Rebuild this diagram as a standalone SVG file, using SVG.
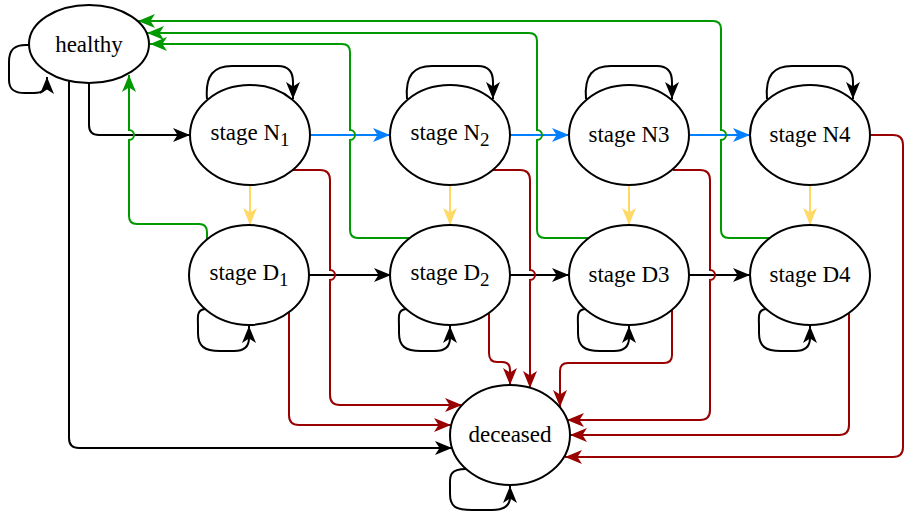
<svg xmlns="http://www.w3.org/2000/svg" width="904" height="517" viewBox="0 0 904 517">
<style>
.n{fill:#fff;stroke:#000;stroke-width:2}
.t{font-family:"Liberation Serif","Times New Roman",serif;font-size:23px;fill:#000;text-anchor:middle}
.s{font-size:19px}
.e{fill:none;stroke-width:2}
.k{stroke:#000}
.b{stroke:#007FFF}
.y{stroke:#FFD966}
.g{stroke:#009900}
.r{stroke:#990000}
</style>
<defs>
<marker id="ak" markerUnits="userSpaceOnUse" viewBox="-19 -10 20 20" markerWidth="20" markerHeight="20" refX="0" refY="0" orient="auto"><path d="M0,0 L-17,-7 L-12.5,0 L-17,7 Z" fill="#000"/></marker>
<marker id="ab" markerUnits="userSpaceOnUse" viewBox="-19 -10 20 20" markerWidth="20" markerHeight="20" refX="0" refY="0" orient="auto"><path d="M0,0 L-17,-7 L-12.5,0 L-17,7 Z" fill="#007FFF"/></marker>
<marker id="ay" markerUnits="userSpaceOnUse" viewBox="-19 -10 20 20" markerWidth="20" markerHeight="20" refX="0" refY="0" orient="auto"><path d="M0,0 L-17,-7 L-12.5,0 L-17,7 Z" fill="#FFD966"/></marker>
<marker id="ag" markerUnits="userSpaceOnUse" viewBox="-19 -10 20 20" markerWidth="20" markerHeight="20" refX="0" refY="0" orient="auto"><path d="M0,0 L-17,-7 L-12.5,0 L-17,7 Z" fill="#009900"/></marker>
<marker id="ar" markerUnits="userSpaceOnUse" viewBox="-19 -10 20 20" markerWidth="20" markerHeight="20" refX="0" refY="0" orient="auto"><path d="M0,0 L-17,-7 L-12.5,0 L-17,7 Z" fill="#990000"/></marker>
</defs>
<g id="connectors">
<g class="e k" marker-end="url(#ak)">
<path d="M29 45 C14 44 9 50 9 62 L9 80 C9 90 15 93 25 93 L34 93 C43 93 47 89 47 82 L47 77"/>
<path d="M207 99 C205 75 214 66 232 66 L278 66 C289 66 293 72 293 82 L293 99"/>
<path d="M407 99 C405 75 414 66 432 66 L478 66 C489 66 493 72 493 82 L493 99"/>
<path d="M586 99 C584 75 593 66 611 66 L657 66 C668 66 672 72 672 82 L672 99"/>
<path d="M767 99 C765 75 774 66 792 66 L838 66 C849 66 853 72 853 82 L853 99"/>
<path d="M205 309 C196 310 198 318 198 326 L198 333 C198 346 204 351 220 351 L234 351 C245 351 249 346 249 338 L249 326"/>
<path d="M406 309 C397 310 399 318 399 326 L399 333 C399 346 405 351 421 351 L435 351 C446 351 450 346 450 338 L450 326"/>
<path d="M585 309 C576 310 578 318 578 326 L578 333 C578 346 584 351 600 351 L614 351 C625 351 629 346 629 338 L629 326"/>
<path d="M766 309 C757 310 759 318 759 326 L759 333 C759 346 765 351 781 351 L795 351 C806 351 810 346 810 338 L810 326"/>
<path d="M466 469 C448 469 450 478 450 486 L450 494 C450 507 456 510 472 510 L492 510 C505 510 510 505 510 497 L510 486"/>
</g>
<g class="e k" marker-end="url(#ak)">
<path d="M89 83 L89 125 Q89 135 99 135 L190 135"/>
<path d="M69 81 L69 438 Q69 448 79 448 L452 448"/>
<path d="M309 275 L391 275"/>
<path d="M510 275 L569 275"/>
<path d="M689 275 L750 275"/>
</g>
<g class="e b" marker-end="url(#ab)">
<path d="M310 135 L390 135"/>
<path d="M510 135 L569 135"/>
<path d="M689 135 L750 135"/>
</g>
<g class="e y" marker-end="url(#ay)">
<path d="M250 185 L250 225"/>
<path d="M450 185 L450 225"/>
<path d="M629 185 L629 225"/>
<path d="M810 185 L810 225"/>
</g>
<g class="e g" marker-end="url(#ag)">
<path d="M207 239 L207 232 Q207 224 199 224 L137 224 Q129 224 129 216 L129 140 A5 5 0 0 0 129 130 L129 75"/>
<path d="M410 238 L358 238 Q350 238 350 230 L350 140 A5 5 0 0 0 350 130 L350 52 Q350 44 342 44 L150 44"/>
<path d="M589 238 L545 238 Q537 238 537 230 L537 140 A5 5 0 0 0 537 130 L537 41 Q537 33 529 33 L147 33"/>
<path d="M770 238 L729 238 Q721 238 721 230 L721 140 A5 5 0 0 0 721 130 L721 29 Q721 21 713 21 L138 21"/>
</g>
<g class="e r" marker-end="url(#ar)">
<path d="M293 170 L320 170 Q330 170 330 180 L330 270 A5 5 0 0 1 330 280 L330 395 Q330 405 340 405 L462 405"/>
<path d="M289 312 L289 415 Q289 425 299 425 L451 425"/>
<path d="M493 170 L520 170 Q530 170 530 180 L530 270 A5 5 0 0 1 530 280 L530 388"/>
<path d="M489 312 L489 353 Q489 362 497 362 L502 362 Q510 362 510 370 L510 385"/>
<path d="M672 310 L672 355 Q672 363 664 363 L568 363 Q560 363 560 371 L560 407"/>
<path d="M673 170 L700 170 Q710 170 710 180 L710 270 A5 5 0 0 1 710 280 L710 410 Q710 420 700 420 L567 420"/>
<path d="M849 312 L849 425 Q849 435 839 435 L570 435"/>
<path d="M870 135 L893 135 Q903 135 903 145 L903 447 Q903 457 893 457 L565 457"/>
</g>
</g>
<g id="healthy"><ellipse class="n" cx="89" cy="44" rx="60" ry="39"/><text class="t" x="89" y="52">healthy</text></g>
<g id="stageN1"><ellipse class="n" cx="250" cy="135" rx="60" ry="50"/><text class="t" x="250" y="140">stage N<tspan class="s" dy="6">1</tspan></text></g>
<g id="stageN2"><ellipse class="n" cx="450" cy="135" rx="60" ry="50"/><text class="t" x="450" y="140">stage N<tspan class="s" dy="6">2</tspan></text></g>
<g id="stageN3"><ellipse class="n" cx="629" cy="135" rx="60" ry="50"/><text class="t" x="629" y="142">stage N3</text></g>
<g id="stageN4"><ellipse class="n" cx="810" cy="135" rx="60" ry="50"/><text class="t" x="810" y="142">stage N4</text></g>
<g id="stageD1"><ellipse class="n" cx="249" cy="275" rx="60" ry="50"/><text class="t" x="249" y="280">stage D<tspan class="s" dy="6">1</tspan></text></g>
<g id="stageD2"><ellipse class="n" cx="450" cy="275" rx="60" ry="50"/><text class="t" x="450" y="280">stage D<tspan class="s" dy="6">2</tspan></text></g>
<g id="stageD3"><ellipse class="n" cx="629" cy="275" rx="60" ry="50"/><text class="t" x="629" y="282">stage D3</text></g>
<g id="stageD4"><ellipse class="n" cx="810" cy="275" rx="60" ry="50"/><text class="t" x="810" y="282">stage D4</text></g>
<g id="deceased"><ellipse class="n" cx="510" cy="435" rx="60" ry="50"/><text class="t" x="510" y="442">deceased</text></g>
</svg>
